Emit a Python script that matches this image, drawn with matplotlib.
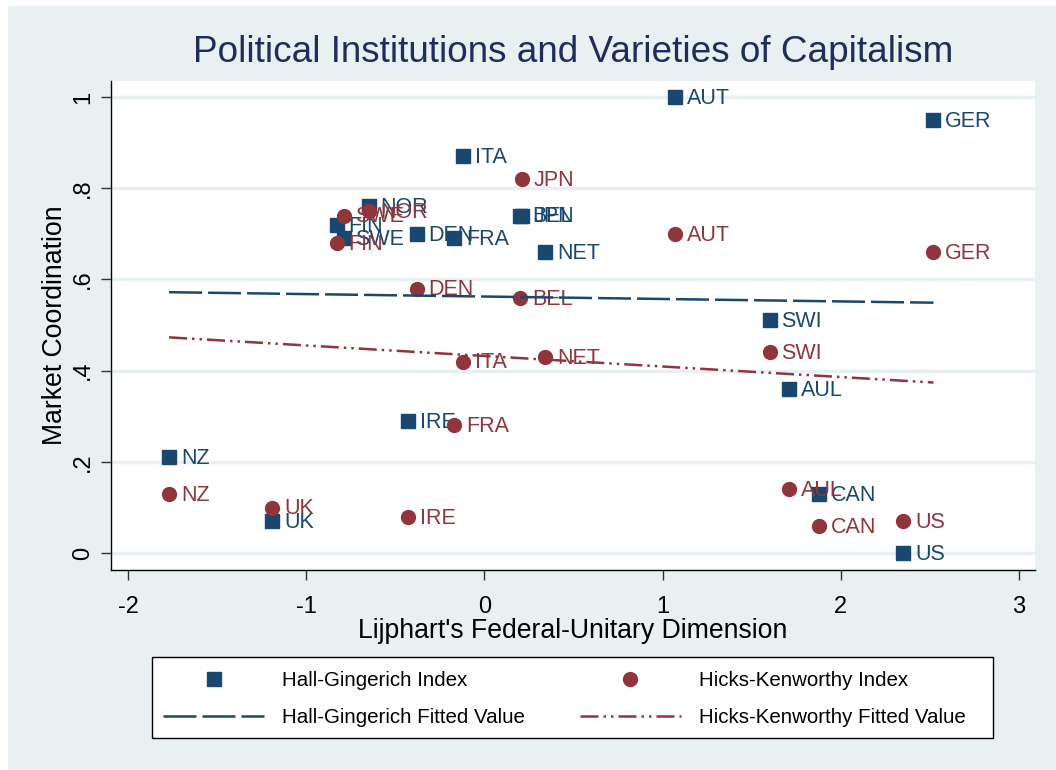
import numpy as np
import matplotlib.pyplot as plt
from matplotlib.lines import Line2D
from matplotlib.patches import Rectangle

plt.rcParams['font.family'] = ['Liberation Sans', 'DejaVu Sans']

countries = ['AUL', 'AUT', 'BEL', 'CAN', 'DEN', 'FIN', 'FRA', 'GER', 'IRE',
             'ITA', 'JPN', 'NET', 'NZ', 'NOR', 'SWE', 'SWI', 'UK', 'US']
lijphart = [1.71, 1.07, 0.20, 1.88, -0.38, -0.83, -0.17, 2.52, -0.43,
            -0.12, 0.21, 0.34, -1.77, -0.65, -0.79, 1.60, -1.19, 2.35]
hall_ging = [0.36, 1.00, 0.74, 0.13, 0.70, 0.72, 0.69, 0.95, 0.29,
             0.87, 0.74, 0.66, 0.21, 0.76, 0.69, 0.51, 0.07, 0.00]
hicks_ken = [0.14, 0.70, 0.56, 0.06, 0.58, 0.68, 0.28, 0.66, 0.08,
             0.42, 0.82, 0.43, 0.13, 0.75, 0.74, 0.44, 0.10, 0.07]

# fitted values at the ends of the x range
fit_x = [-1.77, 2.52]
hg_fit = [0.572, 0.549]
hk_fit = [0.473, 0.374]

xticks = [-2, -1, 0, 1, 2, 3]
xtick_labels = ['-2', '-1', '0', '1', '2', '3']
yticks = [0, 0.2, 0.4, 0.6, 0.8, 1]
ytick_labels = ['0', '.2', '.4', '.6', '.8', '1']

navy = '#1A476F'
maroon = '#90353B'
bg = '#E8F0F2'
title_col = '#1F2D5C'

W, H = 1056, 770
fig = plt.figure(figsize=(W/100, H/100), dpi=100)
fig.patch.set_facecolor('white')
fig.add_artist(Rectangle((8/W, 0), 1, 764/H, transform=fig.transFigure,
                         facecolor=bg, edgecolor='none', zorder=-10))

ax = fig.add_axes([111/W, 200/H, 924/W, 489/H])
ax.set_facecolor('white')

hgp, = ax.plot(lijphart, hall_ging, 's', color=navy, markersize=9.5,
               linestyle='none', zorder=3)
hkp, = ax.plot(lijphart, hicks_ken, 'o', color=maroon, markersize=10,
               linestyle='none', zorder=4)
for c, x, y in zip(countries, lijphart, hall_ging):
    ax.annotate(c, (x, y), xytext=(8.5, -1), textcoords='offset points',
                va='center', ha='left', fontsize=15.5, color=navy, zorder=3)
for c, x, y in zip(countries, lijphart, hicks_ken):
    ax.annotate(c, (x, y), xytext=(8.5, -1), textcoords='offset points',
                va='center', ha='left', fontsize=15.5, color=maroon, zorder=4)

hgl, = ax.plot(fit_x, hg_fit, color=navy, lw=1.8, dashes=(13.2, 2.4), zorder=5)
hkl, = ax.plot(fit_x, hk_fit, color=maroon, lw=1.8,
               dashes=(7.2, 2, 1, 2, 1, 2), zorder=5)

ax.set_xlim(-2.096, 3.09)
ax.set_ylim(-0.037, 1.035)
ax.set_xticks(xticks)
ax.set_xticklabels(xtick_labels, fontsize=17)
ax.set_yticks(yticks)
ax.set_yticklabels(ytick_labels, fontsize=17, rotation=90, va='center')
ax.tick_params(length=7, width=1, color='#333333')
ax.tick_params(axis='x', pad=12)
ax.tick_params(axis='y', pad=5)
ax.grid(axis='y', color=bg, lw=2.5)
ax.set_axisbelow(True)
for s in ['top', 'right']:
    ax.spines[s].set_visible(False)
for s in ['left', 'bottom']:
    ax.spines[s].set_color('black')
    ax.spines[s].set_linewidth(1)

ax.set_xlabel("Lijphart's Federal-Unitary Dimension", fontsize=19.2, labelpad=0)
ax.set_ylabel('Market Coordination', fontsize=19.2, labelpad=3)
fig.text(573/W, 1 - 53/H, 'Political Institutions and Varieties of Capitalism',
         ha='center', va='center', fontsize=26.6, color=title_col)

# legend box drawn separately so its size matches the original
fig.add_artist(Rectangle((152/W, 1 - 738/H), 841/W, 81/H, transform=fig.transFigure,
                         facecolor='white', edgecolor='black', lw=1, zorder=1))
leg = fig.legend([hgp, hgl, hkp, hkl],
                 ['Hall-Gingerich Index', 'Hall-Gingerich Fitted Value',
                  'Hicks-Kenworthy Index', 'Hicks-Kenworthy Fitted Value'],
                 ncol=2, loc='upper left', bbox_to_anchor=(152/W, 1 - 660/H),
                 fontsize=14.8, handlelength=4.9, handletextpad=0.88,
                 columnspacing=2.68, frameon=False, borderpad=0.55,
                 labelspacing=0.85, borderaxespad=0)
leg.set_zorder(2)

fig.savefig('out.png', dpi=100, facecolor=fig.get_facecolor())
